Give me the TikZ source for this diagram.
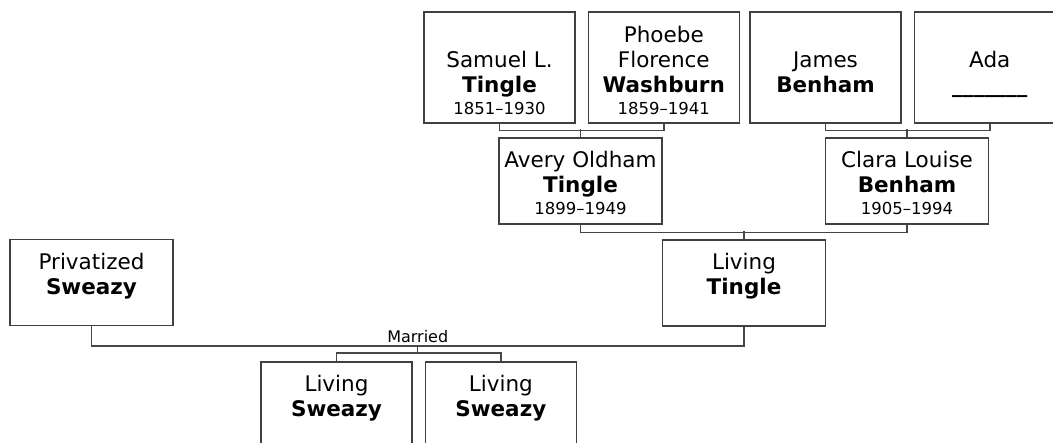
\documentclass[tikz,border=0pt]{standalone}
\usepackage{fontspec}
\setmainfont{DejaVu Sans}
\usepackage{tikz}
\usetikzlibrary{positioning}
\newcommand{\yrs}[1]{{\fontsize{16.5}{19}\selectfont #1}}
\newcommand{\lift}[1]{\rule{0pt}{#1}}

\begin{document}
\begin{tikzpicture}[x=1pt, y=-1pt,
    person/.style={draw=black!75, line width=1.3pt, align=center,
      font=\fontsize{21.5}{25}\selectfont, inner sep=0pt},
    upper/.style={person, minimum width=151pt, minimum height=111pt},
    middle/.style={person, minimum width=163pt, minimum height=86pt},
    lower/.style={person, minimum width=151pt, minimum height=86pt},
    link/.style={draw=black!72, line width=1.4pt}]
  \clip (0,0) rectangle (1053,443);
  % grandparents
  \node[upper] (samuel) at (499.5,67.5)
    {\lift{22pt}\\Samuel L.\\\textbf{Tingle}\\[-3.5pt]\yrs{1851–1930}};
  \node[upper, right=12pt of samuel] (phoebe)
    {\lift{22pt}Phoebe\\Florence\\\textbf{Washburn}\\[-3.5pt]\yrs{1859–1941}};
  \node[upper] (james) at (825.5,67.5)
    {\lift{22pt}\\James\\\textbf{Benham}\\[-3.5pt]\yrs{\phantom{0}}};
  \node[upper, right=12pt of james] (ada)
    {\lift{22pt}\\Ada\\\textbf{\_\_\_\_\_\_\_}\\[-3.5pt]\yrs{\phantom{0}}};
  % parents
  \node[middle] (avery) at (580.5,181)
    {\lift{20.5pt}Avery Oldham\\\textbf{Tingle}\\[-3.5pt]\yrs{1899–1949}};
  \node[middle] (clara) at (907,181)
    {\lift{20.5pt}Clara Louise\\\textbf{Benham}\\[-3.5pt]\yrs{1905–1994}};
  % couple
  \node[middle] (privatized) at (91.5,282.5)
    {\lift{20.5pt}Privatized\\\textbf{Sweazy}\\[-3.5pt]\yrs{\phantom{0}}};
  \node[middle] (tingle) at (744,283)
    {\lift{20.5pt}Living\\\textbf{Tingle}\\[-3.5pt]\yrs{\phantom{0}}};
  % children
  \node[lower] (sweazyA) at (336.5,405)
    {\lift{20.5pt}Living\\\textbf{Sweazy}\\[-3.5pt]\yrs{\phantom{0}}};
  \node[lower, right=12pt of sweazyA] (sweazyB)
    {\lift{20.5pt}Living\\\textbf{Sweazy}\\[-3.5pt]\yrs{\phantom{0}}};

  \draw[link] (samuel.south) -- ++(0,7) -| (phoebe.south);
  \draw[link] (avery.north) -- ++(0,-8);
  \draw[link] (james.south) -- ++(0,7) -| (ada.south);
  \draw[link] (clara.north) -- ++(0,-8);
  \draw[link] (avery.south) -- ++(0,8) -| (clara.south);
  \draw[link] (tingle.north) -- ++(0,-8);
  \draw[link] (privatized.south) -- ++(0,20) -| (tingle.south)
    coordinate[pos=0.25] (wed)
    node[pos=0.25, above, inner sep=3pt, font=\fontsize{16}{19}\selectfont] (married) {Married};
  \draw[link] (wed) -- ++(0,7) coordinate (kids);
  \draw[link] (sweazyA.north) |- (kids) -| (sweazyB.north);
\end{tikzpicture}
\end{document}
